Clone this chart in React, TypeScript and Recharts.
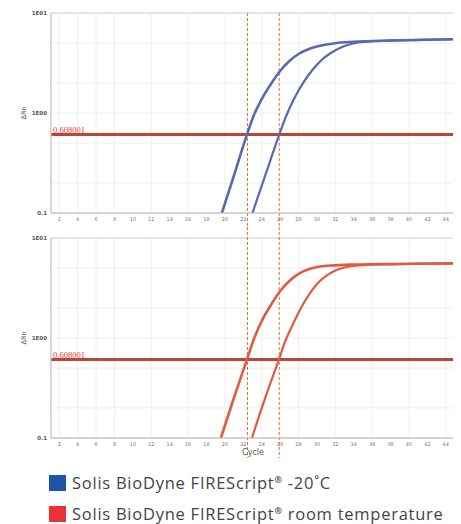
import React from 'react';
import {
  LineChart, Line, XAxis, YAxis, CartesianGrid, ReferenceLine, ReferenceArea,
} from 'recharts';

// cycle ticks and log grid
const cycleTicks = [2, 4, 6, 8, 10, 12, 14, 16, 18, 20, 22, 24, 26, 28, 30, 32, 34, 36, 38, 40, 42, 44];
const yTicks = [0.1, 1, 10];
const logGrid = [0.2, 0.3, 0.4, 0.5, 0.6, 0.7, 0.8, 0.9, 1, 2, 3, 4, 5, 6, 7, 8, 9, 10];

const threshold = 0.608001;
const ctValues = [22.45, 25.9];

// amplification curves (cycle, ΔRn)
const blueEarly = [
  { c: 19.67, v: 0.1 }, { c: 21, v: 0.24 }, { c: 22.39, v: 0.608 }, { c: 23.2, v: 0.977 },
  { c: 24, v: 1.38 }, { c: 25, v: 1.95 }, { c: 26, v: 2.63 }, { c: 27, v: 3.31 },
  { c: 28, v: 3.89 }, { c: 29, v: 4.32 }, { c: 30, v: 4.62 }, { c: 31, v: 4.84 },
  { c: 32, v: 4.99 }, { c: 34, v: 5.15 }, { c: 38, v: 5.31 }, { c: 45, v: 5.47 },
];
const blueLate = [
  { c: 22.99, v: 0.1 }, { c: 24.4, v: 0.24 }, { c: 25.9, v: 0.608 }, { c: 26.7, v: 0.955 },
  { c: 27.5, v: 1.38 }, { c: 28.5, v: 2.0 }, { c: 29.5, v: 2.69 }, { c: 30.5, v: 3.39 },
  { c: 31.5, v: 3.98 }, { c: 32.5, v: 4.47 }, { c: 33.5, v: 4.84 }, { c: 34.5, v: 5.07 },
  { c: 36, v: 5.22 }, { c: 40, v: 5.35 }, { c: 45, v: 5.47 },
];
const redEarly = [
  { c: 19.56, v: 0.1 }, { c: 20.9, v: 0.24 }, { c: 22.39, v: 0.608 }, { c: 23.15, v: 0.977 },
  { c: 24, v: 1.48 }, { c: 25, v: 2.14 }, { c: 26, v: 2.95 }, { c: 27, v: 3.72 },
  { c: 28, v: 4.37 }, { c: 29, v: 4.84 }, { c: 30, v: 5.13 }, { c: 31.5, v: 5.31 },
  { c: 34, v: 5.43 }, { c: 40, v: 5.52 }, { c: 45, v: 5.58 },
];
const redLate = [
  { c: 22.93, v: 0.1 }, { c: 24.3, v: 0.24 }, { c: 25.86, v: 0.608 }, { c: 26.6, v: 0.955 },
  { c: 27.3, v: 1.32 }, { c: 28.2, v: 1.95 }, { c: 29.1, v: 2.69 }, { c: 30, v: 3.47 },
  { c: 31, v: 4.17 }, { c: 32, v: 4.73 }, { c: 33, v: 5.07 }, { c: 34.5, v: 5.31 },
  { c: 37, v: 5.43 }, { c: 45, v: 5.58 },
];

const legendItems = [
  { label: 'Solis BioDyne FIREScript', suffix: ' -20˚C', color: '#1d56a8' },
  { label: 'Solis BioDyne FIREScript', suffix: ' room temperature', color: '#ea3338' },
];

const yFmt = (v: number) => (v >= 10 ? '1E01' : v >= 1 ? '1E00' : '0.1');

// dashed Ct line that runs past the plot so both panels look joined
const ctShape = (extTop: number, extBottom: number) => (props: any) => {
  const top = Math.min(props.y1, props.y2) - extTop;
  const bottom = Math.max(props.y1, props.y2) + extBottom;
  return <line x1={props.x1} x2={props.x2} y1={top} y2={bottom} stroke="#e8702a" strokeWidth={1} strokeDasharray="3 2" />;
};

const rnLabel = ({ viewBox }: any) => (
  <text
    x={viewBox.x + 8}
    y={viewBox.y + viewBox.height / 2}
    transform={`rotate(-90 ${viewBox.x + 8} ${viewBox.y + viewBox.height / 2})`}
    textAnchor="middle"
    dominantBaseline="middle"
    fontSize={6.5}
    fill="#555"
    fontFamily="DejaVu Sans"
  >
    ΔRn
  </text>
);

function Panel({ early, late, color, top, height, xHeight, extTop, extBottom, showCycle }: any) {
  return (
    <LineChart width={453} height={height} margin={{ top, right: 6, left: 8, bottom: 0 }}>
      <CartesianGrid stroke="#ebebeb" strokeWidth={0.8} horizontalValues={logGrid} verticalValues={cycleTicks} />
      <ReferenceArea x1={1.1} x2={45} y1={0.1} y2={10} stroke="#d6d0d0" strokeWidth={1} fill="none" ifOverflow="visible" />
      <XAxis
        type="number" dataKey="c" domain={[1.1, 45]} ticks={cycleTicks} allowDataOverflow
        height={xHeight} tickSize={3} tickMargin={1} tickLine={false}
        axisLine={{ stroke: '#bdbdbd' }}
        tick={{ fontSize: 5, fill: '#777', fontFamily: 'DejaVu Sans' }}
        label={showCycle ? { value: 'Cycle', position: 'insideTop', offset: 11, fontSize: 8, fill: '#555', fontFamily: 'DejaVu Sans' } : undefined}
      />
      <YAxis
        scale="log" domain={[0.1, 10]} ticks={yTicks} allowDataOverflow width={35}
        tickFormatter={yFmt} tickSize={3} tickMargin={1} tickLine={false}
        axisLine={{ stroke: '#d4c2c2' }}
        tick={{ fontSize: 5.5, fill: '#555', fontWeight: 'bold', fontFamily: 'DejaVu Sans' }}
        label={{ content: rnLabel }}
      />
      <ReferenceLine
        y={threshold} stroke="#bc4636" strokeWidth={3}
        label={{ value: '0.608001', position: 'insideBottomLeft', offset: 2, fontSize: 8.5, fill: '#d8402f', fontFamily: 'Liberation Serif' }}
      />
      {ctValues.map((ct) => (
        <ReferenceLine key={ct} x={ct} shape={ctShape(extTop, extBottom)} />
      ))}
      <Line data={early} dataKey="v" type="monotone" stroke={color} strokeWidth={2.6} dot={false} isAnimationActive={false} />
      <Line data={late} dataKey="v" type="monotone" stroke={color} strokeWidth={2.2} dot={false} isAnimationActive={false} />
    </LineChart>
  );
}

export default function App() {
  return (
    <div style={{ width: 453, fontFamily: 'Open Sans' }}>
      <Panel early={blueEarly} late={blueLate} color="#5a68b4" top={5} height={219} xHeight={14} extTop={0} extBottom={14} />
      <Panel early={redEarly} late={redLate} color="#e25a42" top={11} height={241} xHeight={30} extTop={11} extBottom={20} showCycle />
      <div style={{ marginTop: -1, marginLeft: 41 }}>
        {legendItems.map((it, i) => (
          <div key={i} style={{ display: 'flex', alignItems: 'center', height: 31, color: '#444', fontSize: 16.5, letterSpacing: 0.75, lineHeight: '20px' }}>
            <span style={{ width: 17, height: 16, background: it.color, marginRight: 6, flexShrink: 0 }} />
            <span style={{ whiteSpace: 'nowrap' }}>
              {it.label}
              <sup style={{ fontSize: 9, fontWeight: 'bold', lineHeight: 0 }}>®</sup>
              {it.suffix}
            </span>
          </div>
        ))}
      </div>
    </div>
  );
}
